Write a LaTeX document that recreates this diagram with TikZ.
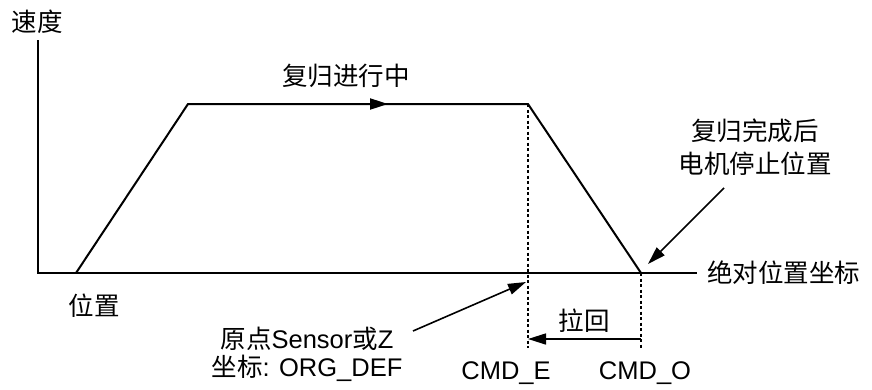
\documentclass[tikz,border=0pt]{standalone}
\usepackage{fontspec}
\setmainfont{Liberation Sans}
\newfontfamily\cjk{Noto Sans CJK SC}
\usetikzlibrary{arrows.meta}

\begin{document}
\begin{tikzpicture}[x=1pt,y=-1pt,
  txt/.style={font=\fontsize{25.5}{#1}\selectfont,inner sep=0pt,align=center},
  txt/.default=31,
  ln/.style={line width=2pt,line join=miter},
  tip/.style={-{Triangle[length=18pt,width=11pt]}},
  guide/.style={line width=2pt,dash pattern=on 3pt off 2.5pt}]
  \useasboundingbox (0,0) rectangle (872,389);
  % axes
  \coordinate (O) at (38,273);
  \coordinate (Ytop) at (38,40);
  \coordinate (Xend) at (697,273);
  \draw[ln] (Ytop) -- (O) -- (Xend);
  % speed profile
  \coordinate (P0) at (76,273);
  \coordinate (P1) at (188,104);
  \coordinate (P2) at (528,104);
  \coordinate (P3) at (641,273);
  \coordinate (Pm) at (388,104);
  \draw[ln] (P0) -- (P1) -- (P2) -- (P3);
  \draw[ln,tip] (P1) -- (Pm);
  % guides
  \coordinate (E) at (528,348);
  \coordinate (F) at (641,348);
  \coordinate (Eb) at (528,339);
  \coordinate (Fb) at (641,339);
  \draw[guide] (P2) -- (E);
  \draw[guide] (P3) -- (F);
  \draw[ln,tip,line width=1.6pt] (Fb) -- (Eb);
  % labels
  \node[txt] (speed) at (37,22) {\cjk 速度};
  \node[txt] (pos) at (94,306) {\cjk 位置};
  \node[txt,anchor=west] (abs) at (707,273) {\cjk 绝对位置坐标};
  \node[txt] (run) at (346,76) {\cjk 复归进行中};
  \node[txt] (back) at (584,321) {\cjk 拉回};
  \node[txt=33] (stop) at (755,147) {\cjk 复归完成后\\\cjk 电机停止位置};
  \node[txt=28] (org) at (307,354) {{\cjk 原点}Sensor{\cjk 或}Z\\{\cjk 坐标}: ORG\_DEF};
  \node[txt] (cmde) at (506,373) {CMD\_E};
  \node[txt] (cmdo) at (645,373) {CMD\_O};
  % pointers
  \coordinate (A1) at (724,188);
  \coordinate (A2) at (648,264);
  \coordinate (B1) at (413,331);
  \coordinate (B2) at (526,282);
  \draw[line width=1.6pt,tip] (A1) -- (A2);
  \draw[line width=1.6pt,tip] (B1) -- (B2);
\end{tikzpicture}
\end{document}
